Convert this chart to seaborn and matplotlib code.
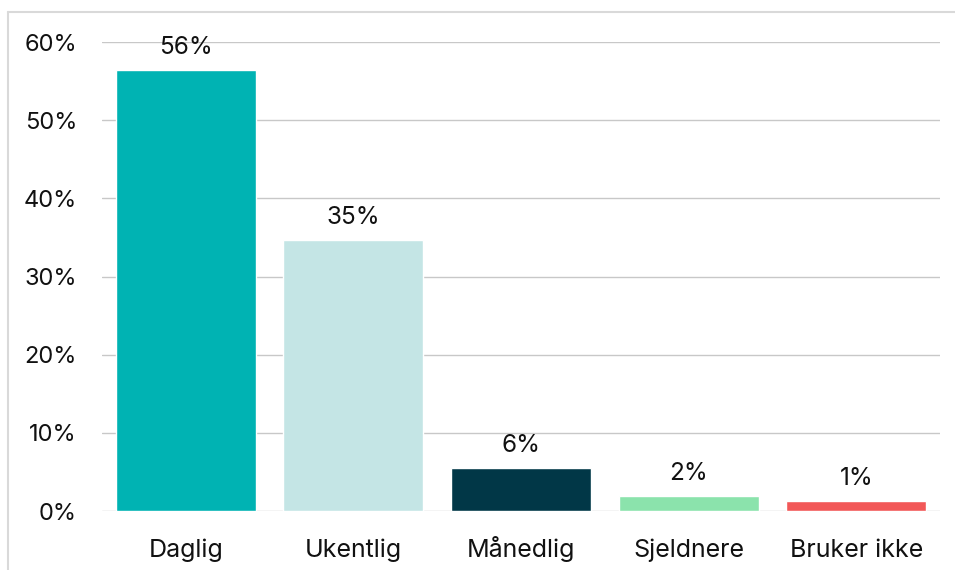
import matplotlib
matplotlib.use("Agg")
import matplotlib.pyplot as plt
import seaborn as sns
import pandas as pd
from matplotlib.lines import Line2D

categories = ["Daglig", "Ukentlig", "Månedlig", "Sjeldnere", "Bruker ikke"]
values = [56.4, 34.7, 5.5, 1.9, 1.3]
labels = ["56%", "35%", "6%", "2%", "1%"]
colors = ["#00B3B3", "#C4E5E5", "#013747", "#8BE3AC", "#F25858"]
yticks = [0, 10, 20, 30, 40, 50, 60]
ytick_labels = ["0%", "10%", "20%", "30%", "40%", "50%", "60%"]

sns.set_theme(style="white")
plt.rcParams['font.family'] = ['Inter', 'DejaVu Sans']

df = pd.DataFrame({"cat": categories, "val": values})

fig = plt.figure(figsize=(9.55, 5.7), dpi=100)
ax = fig.add_axes([0.1068, 0.1035, 0.8775, 0.8228])
sns.barplot(data=df, x="cat", y="val", hue="cat", palette=colors, legend=False,
            width=0.835, saturation=1, ax=ax)

ax.set_ylim(0, 60)
ax.set_xlim(-0.5, len(categories) - 0.5)
ax.set_yticks(yticks)
ax.set_yticklabels(ytick_labels)
ax.yaxis.grid(True, color="#C8C8C8", linewidth=1)
ax.set_axisbelow(True)
for s in ax.spines.values():
    s.set_visible(False)
ax.tick_params(axis="both", length=0, colors="#111111")
ax.tick_params(axis="y", pad=18, labelsize=17)
ax.tick_params(axis="x", pad=33, labelsize=18)
for t in ax.get_xticklabels():
    t.set_va("baseline")
ax.set_xlabel("")
ax.set_ylabel("")

for i, (v, lab) in enumerate(zip(values, labels)):
    ax.annotate(lab, (i, v), xytext=(0, 11.5), textcoords="offset points",
                ha="center", va="baseline", fontsize=17.5, color="#111111")

fig.add_artist(Line2D([8/955, 8/955], [0, 1 - 12/570], transform=fig.transFigure,
                      color="#D9D9D9", linewidth=1.5))
fig.add_artist(Line2D([8/955, 1], [1 - 12/570, 1 - 12/570], transform=fig.transFigure,
                      color="#D9D9D9", linewidth=1.5))

fig.savefig("out.png", dpi=100)
